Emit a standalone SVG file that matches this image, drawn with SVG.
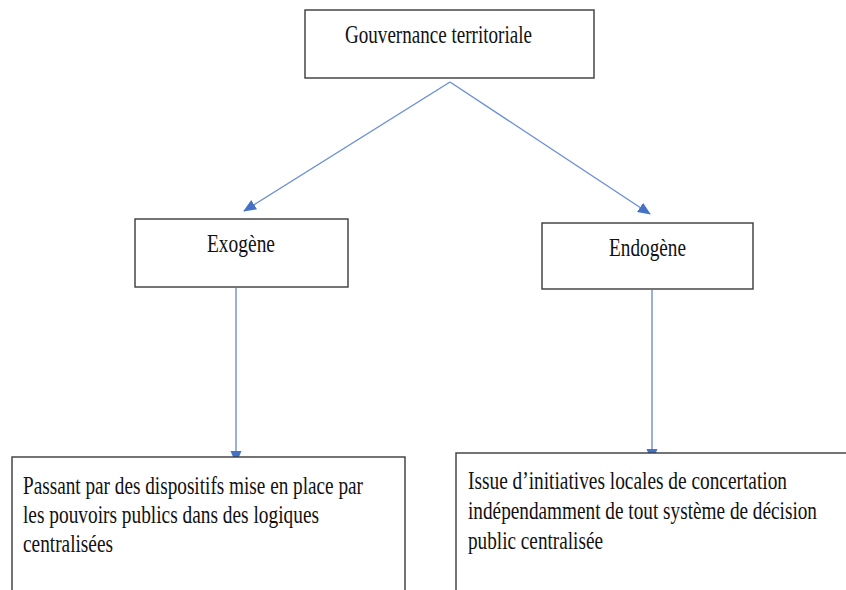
<svg xmlns="http://www.w3.org/2000/svg" width="846" height="590" viewBox="0 0 846 590">
  <defs>
    <marker id="arrow" markerUnits="userSpaceOnUse" markerWidth="13" markerHeight="13" viewBox="0 0 13 13" refX="12" refY="6.5" orient="auto">
      <path d="M0,1 L13,6.5 L0,12 Z" fill="#4472C4"/>
    </marker>
  </defs>
  <style>
    .box { fill: #ffffff; stroke: #3a3a3a; stroke-width: 1.4; }
    .label { font-family: "Liberation Serif", "Times New Roman", serif; font-size: 26px; fill: #111111; }
    .link { stroke: #6a8fd4; stroke-width: 1.4; fill: none; marker-end: url(#arrow); }
  </style>
  <rect width="846" height="590" fill="#ffffff"/>

  <g id="connectors">
    <line class="link" x1="450" y1="82" x2="244" y2="211"/>
    <line class="link" x1="450" y1="82" x2="650" y2="214"/>
    <line class="link" x1="236" y1="288" x2="236" y2="463"/>
    <line class="link" x1="652" y1="290" x2="652" y2="461"/>
  </g>

  <g id="gouvernance">
    <rect class="box" x="305" y="10" width="289" height="68"/>
    <text class="label" x="345" y="43" textLength="187" lengthAdjust="spacingAndGlyphs">Gouvernance territoriale</text>
  </g>

  <g id="exogene">
    <rect class="box" x="135" y="219" width="213" height="68"/>
    <text class="label" x="207" y="252" textLength="68" lengthAdjust="spacingAndGlyphs">Exogène</text>
  </g>

  <g id="endogene">
    <rect class="box" x="542" y="223" width="211" height="66"/>
    <text class="label" x="609" y="256" textLength="77" lengthAdjust="spacingAndGlyphs">Endogène</text>
  </g>

  <g id="exogene-detail">
    <rect class="box" x="12" y="457" width="393" height="150"/>
    <text class="label" x="23" y="494" textLength="340" lengthAdjust="spacingAndGlyphs">Passant par des dispositifs mise en place par</text>
    <text class="label" x="23" y="523" textLength="296" lengthAdjust="spacingAndGlyphs">les pouvoirs publics dans des logiques</text>
    <text class="label" x="23" y="552" textLength="90" lengthAdjust="spacingAndGlyphs">centralisées</text>
  </g>

  <g id="endogene-detail">
    <rect class="box" x="456" y="453" width="392" height="150"/>
    <text class="label" x="468" y="489" textLength="319" lengthAdjust="spacingAndGlyphs">Issue d’initiatives locales de concertation</text>
    <text class="label" x="468" y="519" textLength="349" lengthAdjust="spacingAndGlyphs">indépendamment de tout système de décision</text>
    <text class="label" x="468" y="549" textLength="135" lengthAdjust="spacingAndGlyphs">public centralisée</text>
  </g>
</svg>
